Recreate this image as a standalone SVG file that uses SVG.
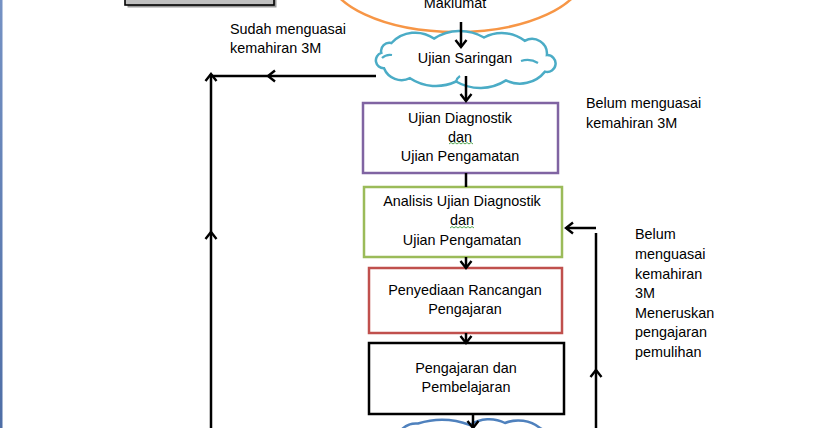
<svg xmlns="http://www.w3.org/2000/svg" width="815" height="428" viewBox="0 0 815 428">
<style>
  text { font-family: "Liberation Sans", Arial, sans-serif; font-size: 14.4px; fill: #000; }
  .c { text-anchor: middle; }
  .box { fill: #fff; stroke-width: 2.5; }
  .ln { fill: none; stroke: #000; stroke-width: 2.5; }
  .arr { marker-end: url(#ah); }
  .cin { fill: none; stroke-width: 2.2; }
  .sq { fill: none; stroke: #3f9b3f; stroke-width: 0.9; }
</style>
<defs>
  <marker id="ah" markerUnits="userSpaceOnUse" markerWidth="14" markerHeight="14" viewBox="0 0 14 14" refX="12" refY="7" orient="auto">
    <path d="M5,1.5 L12,7 L5,12.5" fill="none" stroke="#000" stroke-width="2.4"/>
  </marker>
  <linearGradient id="bar" x1="0" y1="0" x2="0" y2="1">
    <stop offset="0" stop-color="#7592c4"/>
    <stop offset="1" stop-color="#4e6ea6"/>
  </linearGradient>
</defs>
<rect x="0" y="0" width="815" height="428" fill="#fff"/>
<rect x="0" y="0" width="2.5" height="428" fill="url(#bar)"/>

<g id="gray-box">
  <rect x="127.5" y="-38" width="149" height="45.5" fill="#9a9a9a"/>
  <rect x="125" y="-40" width="149" height="45" fill="#c0c0c0" stroke="#000" stroke-width="1.6"/>
</g>

<g id="maklumat">
  <ellipse cx="456" cy="-28" rx="129" ry="60" fill="#fff" stroke="#f79646" stroke-width="2.5"/>
  <text class="c" x="455" y="8">Maklumat</text>
</g>

<g id="ujian-saringan">
  <path d="M381.3,52.9 A8.3,8.3 0 0 1 391.5,43 A32.5,32.5 0 0 1 434,38.6 A48,48 0 0 1 484,37.5 A37.7,37.7 0 0 1 524.7,40.8 A14.9,14.9 0 0 1 546.9,55.1 A8.4,8.4 0 1 1 545,71.6 A32,32 0 0 1 506,80.4 A48,48 0 0 1 456,81.5 A47,47 0 0 1 410,78.2 A19,19 0 0 1 384,68.3 A7.9,7.9 0 0 1 381.3,52.9 Z" fill="#fff" stroke="#4bacc6" stroke-width="2.5"/>
  <path class="cin" stroke="#4bacc6" d="M538,63 Q530,58 521,61 M382,58 Q386,54 392,55 M456,81.5 Q457,78 460,76"/>
  <text class="c" x="465" y="63">Ujian Saringan</text>
</g>

<g id="ujian-diagnostik">
  <rect class="box" x="363" y="103" width="195" height="70" stroke="#8064a2"/>
  <text class="c" x="460" y="123">Ujian Diagnostik</text>
  <text class="c" x="460" y="142">dan</text>
  <path class="sq" d="M449,144 l2,-1.5 l2,1.5 l2,-1.5 l2,1.5 l2,-1.5 l2,1.5 l2,-1.5 l2,1.5 l2,-1.5 l2,1.5 l2,-1.5 l2,1.5"/>
  <text class="c" x="460" y="161">Ujian Pengamatan</text>
</g>

<g id="analisis">
  <rect class="box" x="364" y="187" width="198" height="70" stroke="#9bbb59"/>
  <text class="c" x="462" y="206">Analisis Ujian Diagnostik</text>
  <text class="c" x="462" y="225">dan</text>
  <path class="sq" d="M450,228 l2,-1.5 l2,1.5 l2,-1.5 l2,1.5 l2,-1.5 l2,1.5 l2,-1.5 l2,1.5 l2,-1.5 l2,1.5 l2,-1.5 l2,1.5"/>
  <text class="c" x="462" y="245">Ujian Pengamatan</text>
</g>

<g id="penyediaan">
  <rect class="box" x="369" y="268" width="193" height="65" stroke="#c0504d"/>
  <text class="c" x="465" y="295">Penyediaan Rancangan</text>
  <text class="c" x="465" y="314">Pengajaran</text>
</g>

<g id="pengajaran">
  <rect class="box" x="369" y="343" width="195" height="71" stroke="#000"/>
  <text class="c" x="466" y="373">Pengajaran dan</text>
  <text class="c" x="466" y="392">Pembelajaran</text>
</g>

<g id="bottom-cloud">
  <path d="M396,442 A20,20 0 0 1 418,423.5 A80,80 0 0 1 470,425 A35,35 0 0 1 505,423 A35,35 0 0 1 540,428 A15,15 0 0 1 548,445 Z" fill="#fff" stroke="#4f81bd" stroke-width="2.5"/>
</g>

<g id="labels">
  <text x="230" y="34">Sudah menguasai</text>
  <text x="230" y="53">kemahiran 3M</text>
  <text x="586" y="108">Belum menguasai</text>
  <text x="586" y="128">kemahiran 3M</text>
  <text x="635" y="239">Belum</text>
  <text x="635" y="259">menguasai</text>
  <text x="635" y="279">kemahiran</text>
  <text x="635" y="298">3M</text>
  <text x="635" y="318">Meneruskan</text>
  <text x="635" y="337">pengajaran</text>
  <text x="635" y="357">pemulihan</text>
</g>

<g id="connectors">
  <path class="ln arr" d="M461,22 V47"/>
  <path class="ln arr" d="M466,76 V101"/>
  <path class="ln" d="M466,173 V187"/>
  <path class="ln arr" d="M466,257 V268"/>
  <path class="ln arr" d="M466,333 V343"/>
  <path class="ln arr" d="M473,414 V428"/>
  <path class="ln arr" d="M376,76 H268"/>
  <path class="ln" d="M268,76 H211"/>
  <path class="ln arr" d="M211,430 V232"/>
  <path class="ln arr" d="M211,232 V74"/>
  <path class="ln arr" d="M596,430 V370"/>
  <path class="ln" d="M596,370 V233"/>
  <path class="ln arr" d="M596,228 H566"/>
</g>
</svg>
